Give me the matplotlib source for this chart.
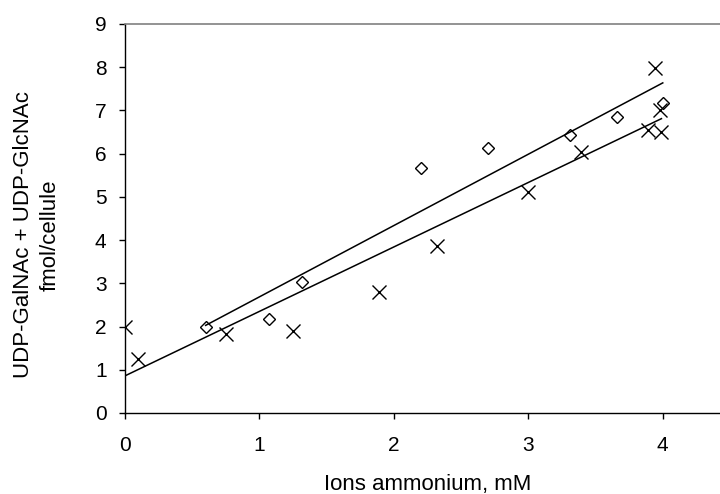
import numpy as np
import matplotlib
matplotlib.use('Agg')
import matplotlib.pyplot as plt

# Cross series (x) and diamond series
x_cross = [0.0, 0.10, 0.75, 1.25, 1.89, 2.32, 3.00, 3.39, 3.89, 3.94, 3.98, 3.99]
y_cross = [2.00, 1.24, 1.82, 1.90, 2.80, 3.87, 5.12, 6.04, 6.55, 7.98, 7.01, 6.49]

x_diam = [0.60, 1.07, 1.32, 2.20, 2.70, 3.31, 3.66, 4.00]
y_diam = [1.98, 2.17, 3.04, 5.66, 6.13, 6.43, 6.84, 7.17]

x_ticks = [0, 1, 2, 3, 4]
y_ticks = list(range(0, 10))

plt.rcParams['font.family'] = ['Liberation Sans', 'DejaVu Sans']

fig = plt.figure(figsize=(7.2, 4.94), dpi=100)
ax = fig.add_axes([125 / 720, 1 - 413 / 494, 605 / 720, 389 / 494])

# linear trend lines
for xs, ys in [(x_diam, y_diam), (x_cross, y_cross)]:
    k, b = np.polyfit(xs, ys, 1)
    xx = np.array([min(xs), max(xs)])
    ax.plot(xx, k * xx + b, color='black', lw=1.1, zorder=2)

ax.plot(x_diam, y_diam, linestyle='none', marker='D', ms=6.2, mfc='none',
        mec='black', mew=1.0, zorder=3)
ax.plot(x_cross, y_cross, linestyle='none', marker='x', ms=9.5,
        color='black', mew=1.0, zorder=3)

ax.set_xlim(0, 4.5)
ax.set_ylim(0, 9)
ax.set_xticks(x_ticks)
ax.set_yticks(y_ticks)
ax.tick_params(direction='out', length=4.3, width=1, labelsize=15, color='black')
ax.tick_params(axis='x', pad=12)
ax.tick_params(axis='y', pad=9)

ax.spines['right'].set_visible(False)
ax.spines['top'].set_color('#808080')
ax.spines['top'].set_linewidth(1.2)
for s in ['left', 'bottom']:
    ax.spines[s].set_color('black')
    ax.spines[s].set_linewidth(1.0)

fig.text(428 / 720, 1 - 484 / 494, 'Ions ammonium, mM', ha='center', va='center', fontsize=16)
fig.text(37 / 720, 1 - 235 / 494, 'UDP-GalNAc + UDP-GlcNAc\nfmol/cellule', rotation=90,
         ha='center', va='center', multialignment='center', fontsize=16, linespacing=1.35)

fig.savefig('out.png', dpi=100)
